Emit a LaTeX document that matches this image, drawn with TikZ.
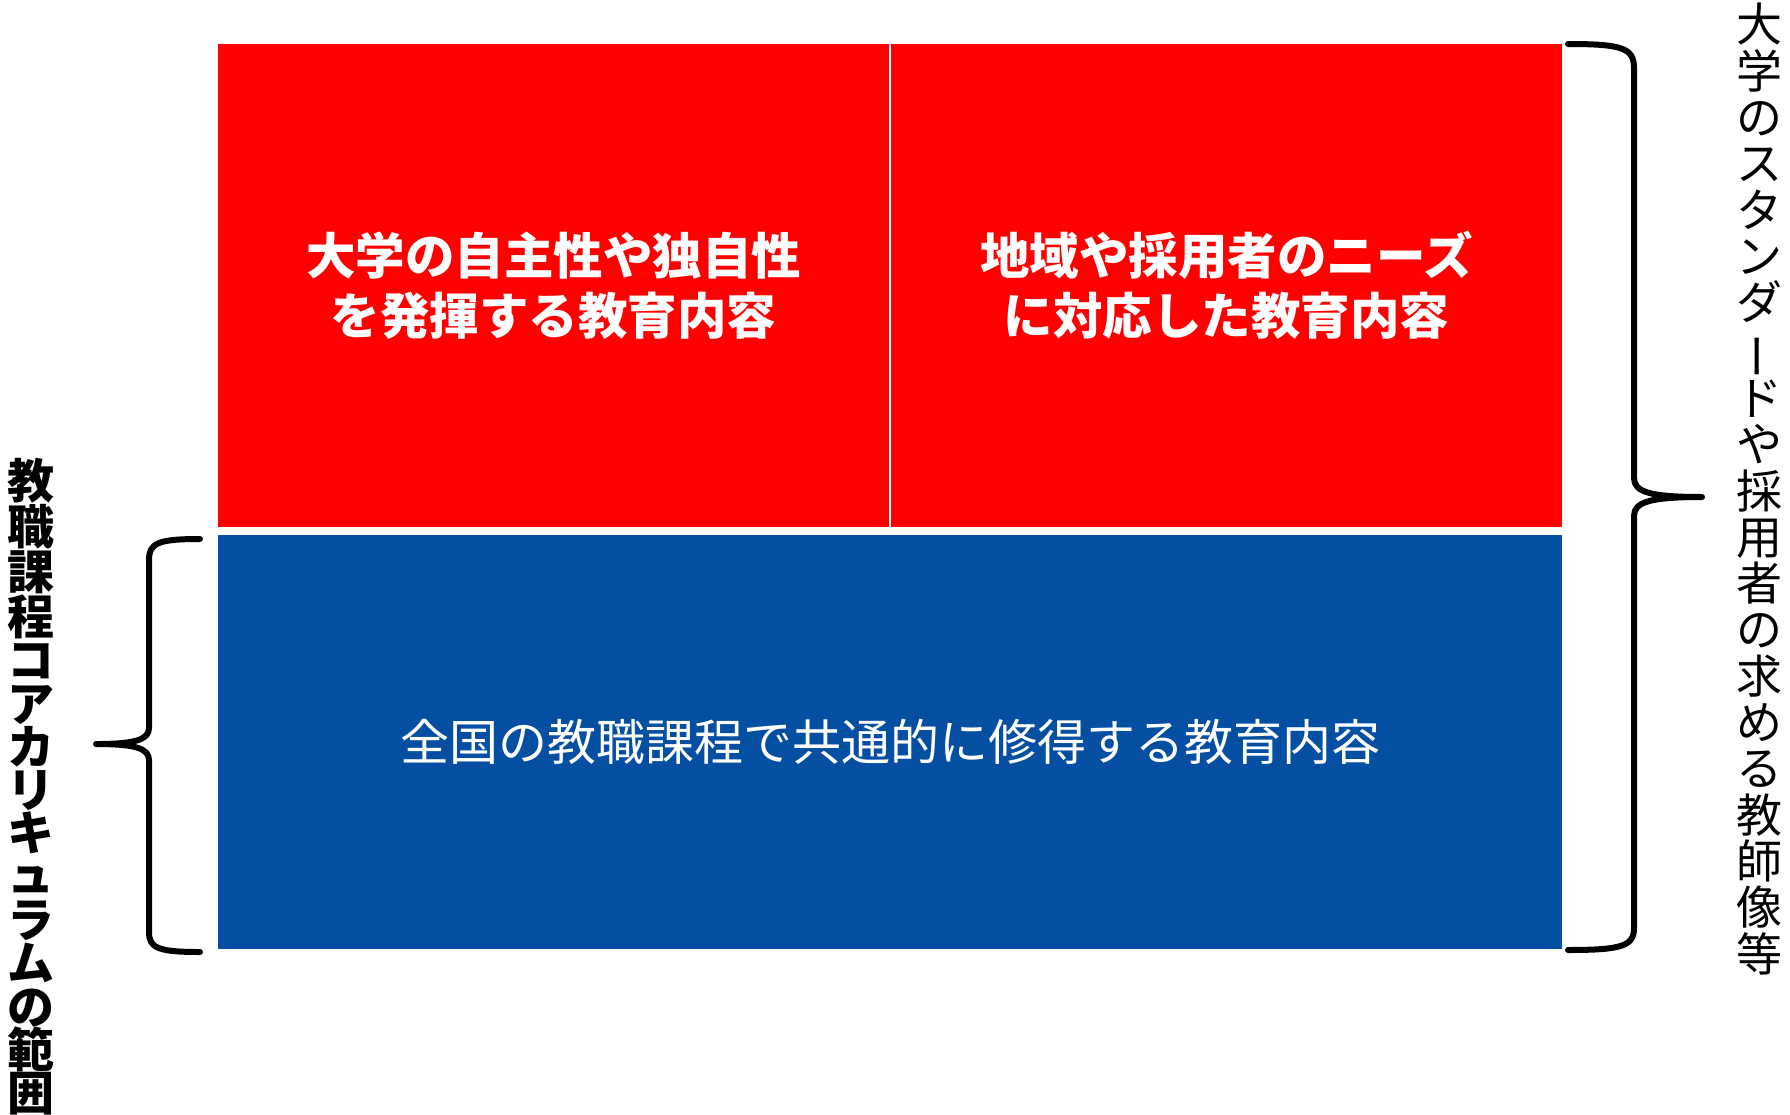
\documentclass[tikz,border=0pt]{standalone}
\usepackage{fontspec}
\newfontfamily\jp{Noto Sans CJK JP}
\definecolor{coreblue}{RGB}{4,79,162}
\newcommand{\tatebar}{\makebox[0pt]{\kern-19pt\rotatebox[origin=c]{-90}{ー}}}
\newcommand{\smallyu}{\raisebox{3pt}[0pt][0pt]{ュ}}

\begin{document}
\begin{tikzpicture}[x=1pt, y=-1pt,
    redbox/.style={rectangle, anchor=north west, inner sep=0, fill=red, text=white,
      align=center, font=\jp\bfseries\fontsize{49.5}{60}\selectfont},
    bluebox/.style={rectangle, anchor=north west, inner sep=0, fill=coreblue, text=white,
      font=\jp\fontsize{49}{60}\selectfont},
    brace/.style={line width=6pt, line cap=round, line join=round}]
  \useasboundingbox (0,0) rectangle (1790,1114);
  % three content boxes
  \node[redbox, minimum width=671pt, minimum height=483pt] (own) at (218,44)
    {大学の自主性や独自性\\を発揮する教育内容};
  \node[redbox, minimum width=671pt, minimum height=483pt] (local) at (891,44)
    {地域や採用者のニーズ\\に対応した教育内容};
  \node[bluebox, minimum width=1344pt, minimum height=414pt] (core) at (218,535)
    {全国の教職課程で共通的に修得する教育内容};
  % right brace
  \draw[brace] (1568,44) .. controls (1622,44) and (1634,48) .. (1634,68)
    -- (1634,478) .. controls (1634,492) and (1650,497) .. (1702,497)
    .. controls (1650,497) and (1634,502) .. (1634,516)
    -- (1634,928) .. controls (1634,946) and (1622,950) .. (1568,950);
  % left brace
  \draw[brace] (200,539) .. controls (158,539) and (149,543) .. (149,560)
    -- (149,728) .. controls (149,740) and (134,744) .. (96,744)
    .. controls (134,744) and (149,748) .. (149,760)
    -- (149,932) .. controls (149,948) and (158,952) .. (200,952);
  % side labels
  \node[align=center, inner sep=0, font=\jp\fontsize{46}{46.3}\selectfont] (standard) at (1759,489)
    {大\\学\\の\\ス\\タ\\ン\\ダ\\\tatebar\\ド\\や\\採\\用\\者\\の\\求\\め\\る\\教\\師\\像\\等};
  \node[align=center, inner sep=0, font=\jp\bfseries\fontsize{47}{43.3}\selectfont] (range) at (31,787)
    {教\\職\\課\\程\\コ\\ア\\カ\\リ\\キ\\\smallyu\\ラ\\ム\\の\\範\\囲};
\end{tikzpicture}
\end{document}
